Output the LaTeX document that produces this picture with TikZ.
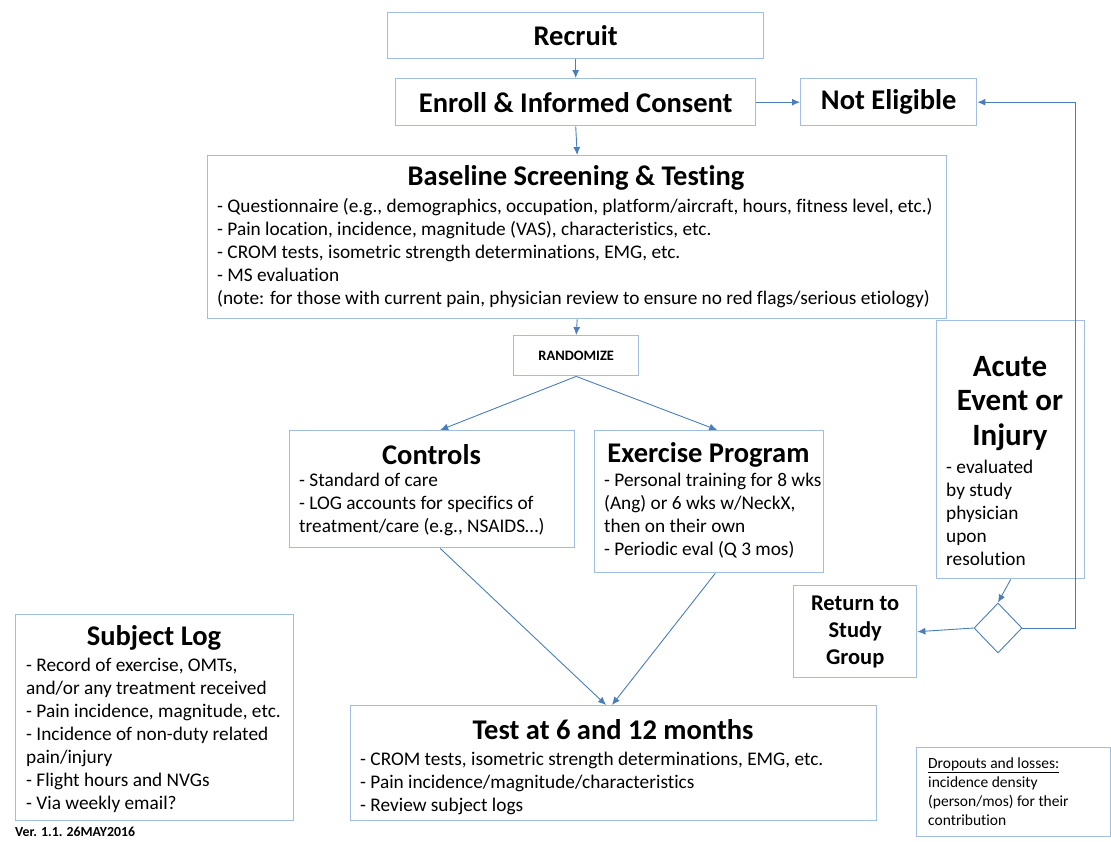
\documentclass[tikz,border=0pt]{standalone}
\usepackage{fontspec}
\setmainfont{Carlito}[Ligatures=NoCommon]
\usetikzlibrary{arrows.meta,shapes.geometric}
\definecolor{boxc}{RGB}{160,190,228}
\definecolor{arrc}{RGB}{74,126,187}
\tikzset{
  box/.style={draw=boxc, line width=1.4pt, inner sep=0pt, anchor=north west},
  conn/.style={draw=arrc, line width=0.9pt, -{Latex[length=8pt,width=7pt]}},
  ttl/.style={font=\fontsize{28.5}{34}\selectfont\bfseries, inner sep=0pt},
  body/.style={font=\fontsize{19.3}{23}\selectfont, align=left, inner sep=0pt, anchor=west},
}
\begin{document}
\begin{tikzpicture}[x=1pt,y=-1pt]
\useasboundingbox (0,0) rectangle (1111,841);
% top boxes
\node[box, minimum width=376, minimum height=46, font=\fontsize{28.5}{34}\selectfont\bfseries] (recruit) at (387,12) {Recruit};
\node[box, minimum width=360, minimum height=47, font=\fontsize{28.5}{34}\selectfont\bfseries] (enroll) at (395,78) {Enroll \& Informed Consent};
\node[box, minimum width=176, minimum height=47, font=\fontsize{28.5}{34}\selectfont\bfseries] (ne) at (800,78) {Not Eligible};
% baseline
\node[box, minimum width=739, minimum height=163] (base) at (207,155) {};
\node[ttl] (baseT) at (576,178) {Baseline Screening \& Testing};
\node[body] (baseB) at (217,253) {- Questionnaire (e.g., demographics, occupation, platform/aircraft, hours, fitness level, etc.)\\
- Pain location, incidence, magnitude (VAS), characteristics, etc.\\
- CROM tests, isometric strength determinations, EMG, etc.\\
- MS evaluation\\
(note: for those with current pain, physician review to ensure no red flags/serious etiology)};
% randomize
\node[box, minimum width=125, minimum height=40, font=\fontsize{14.4}{17}\selectfont\bfseries] (rand) at (513,335) {RANDOMIZE};
% controls
\node[box, minimum width=285, minimum height=117] (ctrl) at (289,430) {};
\node[ttl] (ctrlT) at (431.5,455) {Controls};
\node[body] (ctrlB) at (299,504) {- Standard of care\\
- LOG accounts for specifics of\\
treatment/care (e.g., NSAIDS\ldots)};
% exercise
\node[box, minimum width=229, minimum height=142] (ex) at (594,430) {};
\node[ttl] (exT) at (708.5,455) {Exercise Program};
\node[body] (exB) at (604,515.5) {- Personal training for 8 wks\\
(Ang) or 6 wks w/NeckX,\\
then on their own\\
- Periodic eval (Q 3 mos)};
% acute
\node[box, minimum width=148, minimum height=258] (acute) at (936,320) {};
\node[inner sep=0pt, align=center, font=\fontsize{31}{34.5}\selectfont\bfseries] (acuteT) at (1010,403.5) {Acute\\Event or\\Injury};
\node[body] (acuteB) at (946,513) {- evaluated\\by study\\physician\\upon\\resolution};
% diamond
\node[diamond, draw=arrc, line width=0.9pt, minimum width=48pt, minimum height=50pt, inner sep=0pt] (dia) at (998,628) {};
% return
\node[box, minimum width=123, minimum height=92, align=center, font=\fontsize{22.5}{27}\selectfont\bfseries] (ret) at (793,585) {Return to\\Study\\Group};
% subject log
\node[box, minimum width=278, minimum height=206] (log) at (15,614) {};
\node[ttl] (logT) at (154,638) {Subject Log};
\node[body] (logB) at (26,735.5) {- Record of exercise, OMTs,\\
and/or any treatment received\\
- Pain incidence, magnitude, etc.\\
- Incidence of non-duty related\\
pain/injury\\
- Flight hours and NVGs\\
- Via weekly email?};
% test
\node[box, minimum width=526, minimum height=115] (test) at (350,705) {};
\node[ttl] (testT) at (613,730) {Test at 6 and 12 months};
\node[body] (testB) at (360,783) {- CROM tests, isometric strength determinations, EMG, etc.\\
- Pain incidence/magnitude/characteristics\\
- Review subject logs};
% dropouts
\node[box, line width=1pt, minimum width=194, minimum height=89] (drop) at (916,747) {};
\node[inner sep=0pt, anchor=west, align=left, font=\fontsize{15.5}{18.8}\selectfont] (dropT) at (928,791.5) {\underline{Dropouts and losses:}\\incidence density\\(person/mos) for their\\contribution};
% version
\node[inner sep=0pt, anchor=west, font=\fontsize{13.8}{16}\selectfont\bfseries] (ver) at (15,832) {Ver. 1.1. 26MAY2016};
% connectors
\coordinate (tin1) at (606,705);
\coordinate (tin2) at (612,705);
\draw[conn] (recruit.south) -- (enroll.north);
\draw[conn] (enroll.east) -- (ne.west);
\draw[conn] (enroll.south) -- (base.north);
\draw[conn] (base.south) -- (rand.north);
\draw[conn] (rand.south) -- ([xshift=8pt]ctrl.north);
\draw[conn] (rand.south) -- ([xshift=8pt]ex.north);
\draw[conn] ([xshift=8pt]ctrl.south) -- (tin1);
\draw[conn] ([xshift=6pt]ex.south) -- (tin2);
\draw[conn] (acute.south) -- (dia.north);
\draw[conn] (dia.west) -- (ret.east);
\draw[conn] (dia.east) -- ++(53,0) |- (ne.east);
\end{tikzpicture}
\end{document}
